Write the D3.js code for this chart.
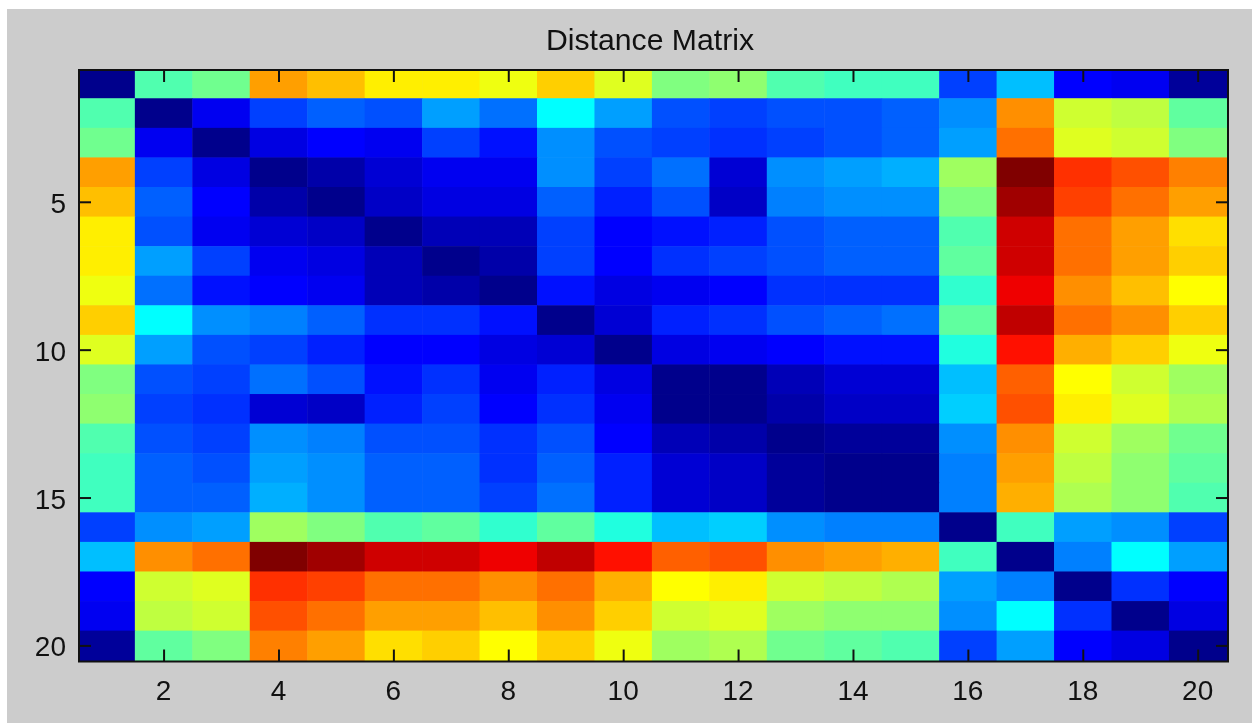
<!DOCTYPE html>
<html><head><meta charset="utf-8">
<script src="https://cdn.jsdelivr.net/npm/d3@7"></script>
<style>html,body{margin:0;padding:0;background:#fff}svg{display:block}text{font-family:"Liberation Sans",Arial,sans-serif;fill:#111}</style>
</head><body><div id="c"></div>
<script>
const title = "Distance Matrix";
const xTicks = [2,4,6,8,10,12,14,16,18,20];
const yTicks = [5,10,15,20];
// Colormap levels (0-64)
const row01 = [0,29,31,46,44,41,41,39,43,38,32,33,29,28,28,12,20,8,7,1];
const row02 = [29,0,7,12,14,13,18,15,24,18,13,12,13,13,14,17,47,37,36,30];
const row03 = [31,7,0,6,8,7,12,9,17,13,12,11,12,13,14,18,49,38,37,32];
const row04 = [46,12,6,0,2,5,7,7,17,12,15,5,17,18,19,34,64,53,51,48];
const row05 = [44,14,8,2,0,4,6,6,14,10,13,4,16,17,17,32,62,52,49,46];
const row06 = [41,13,7,5,4,0,3,3,12,8,9,10,13,14,14,29,59,49,46,42];
const row07 = [41,18,12,7,6,3,0,2,12,8,11,12,13,14,14,30,59,49,46,43];
const row08 = [39,15,9,8,7,3,2,0,9,6,7,8,11,11,11,27,57,47,44,40];
const row09 = [43,24,17,16,14,11,11,9,0,5,10,11,13,14,15,30,60,49,47,43];
const row10 = [38,18,13,12,10,8,8,6,5,0,6,7,8,9,9,26,55,45,43,39];
const row11 = [32,13,12,15,13,9,11,7,10,6,0,0,3,5,5,20,50,40,37,34];
const row12 = [33,12,11,5,4,10,12,8,11,7,0,0,2,4,4,21,51,41,38,35];
const row13 = [29,13,12,17,16,13,13,11,13,8,3,2,0,1,1,17,47,37,34,31];
const row14 = [28,14,13,18,17,14,14,11,14,10,5,4,1,0,0,16,46,36,33,30];
const row15 = [28,14,14,19,17,14,14,12,15,10,5,4,1,0,0,16,45,35,33,29];
const row16 = [12,17,18,34,32,29,30,27,30,26,20,21,17,16,16,0,28,18,17,12];
const row17 = [20,47,49,64,62,59,59,57,60,55,50,51,47,46,45,28,0,16,24,18];
const row18 = [8,37,38,53,52,49,49,47,49,45,40,41,37,36,35,18,16,0,11,8];
const row19 = [7,36,37,51,49,46,46,44,47,43,37,38,34,33,33,17,24,11,0,6];
const row20 = [1,30,32,48,46,42,43,40,43,39,34,35,31,30,29,12,18,8,6,0];
const matrix = [row01,row02,row03,row04,row05,row06,row07,row08,row09,row10,row11,row12,row13,row14,row15,row16,row17,row18,row19,row20];
const jetLevels = [0,8,24,40,56,64];
const jetColors = ["#00008c","#0000ff","#00ffff","#ffff00","#ff0000","#800000"];

const W=1252,H=723,L=79,R=1228,T=70,B=661.5,dx=-1.6,dy=-1.3;
const svg=d3.select("#c").append("svg").attr("width",W).attr("height",H);
svg.append("rect").attr("x",7).attr("y",9).attr("width",W-7).attr("height",H-9).attr("fill","#cccccc");
svg.append("clipPath").attr("id","plot").append("rect").attr("x",L).attr("y",T).attr("width",R-L).attr("height",B-T);
const x=d3.scaleLinear().domain([0.5,20.5]).range([L+dx,R+dx]);
const y=d3.scaleLinear().domain([0.5,20.5]).range([T+dy,B+dy]);
const color=d3.scaleLinear().domain(jetLevels).range(jetColors);
const cells=matrix.flatMap((r,i)=>r.map((v,j)=>({i:i+1,j:j+1,v})));
svg.append("g").attr("clip-path","url(#plot)").append("g").attr("style","filter:blur(0.6px)")
 .selectAll("rect").data(cells).join("rect")
 .attr("x",d=>x(d.j-0.5)).attr("y",d=>y(d.i-0.5))
 .attr("width",d=>x(d.j+0.5)-x(d.j-0.5)+(d.j===20?4:0.5)).attr("height",d=>y(d.i+0.5)-y(d.i-0.5)+(d.i===20?4:0.5))
 .attr("fill",d=>color(d.v));
const fmt=d3.format("d"), ts=12, fs=28;
const blurred=svg.append("g").attr("style","filter:blur(0.45px)");
function style(g){
 g.selectAll(".domain").remove();
 g.selectAll(".tick line").attr("stroke","#111").attr("stroke-width",2);
}
const mk=a=>a.tickSize(ts).tickSizeOuter(0).tickFormat("");
blurred.append("g").attr("transform",`translate(0,${B})`).call(mk(d3.axisTop(x).tickValues(xTicks))).call(style);
blurred.append("g").attr("transform",`translate(0,${T})`).call(mk(d3.axisBottom(x).tickValues(xTicks))).call(style);
blurred.append("g").attr("transform",`translate(${L},0)`).call(mk(d3.axisRight(y).tickValues(yTicks))).call(style);
blurred.append("g").attr("transform",`translate(${R},0)`).call(mk(d3.axisLeft(y).tickValues(yTicks))).call(style);
blurred.append("rect").attr("x",L).attr("y",T).attr("width",R-L).attr("height",B-T).attr("fill","none").attr("stroke","#111").attr("stroke-width",2);
blurred.append("g").selectAll("text").data(xTicks).join("text").attr("x",d=>x(d)).attr("y",B+38).attr("text-anchor","middle").attr("font-size",fs).text(fmt);
blurred.append("g").selectAll("text").data(yTicks).join("text").attr("x",L-13).attr("y",d=>y(d)+11).attr("text-anchor","end").attr("font-size",fs).text(fmt);
blurred.append("text").attr("x",650).attr("y",50).attr("text-anchor","middle").attr("font-size",30.2).text(title);
</script></body></html>
